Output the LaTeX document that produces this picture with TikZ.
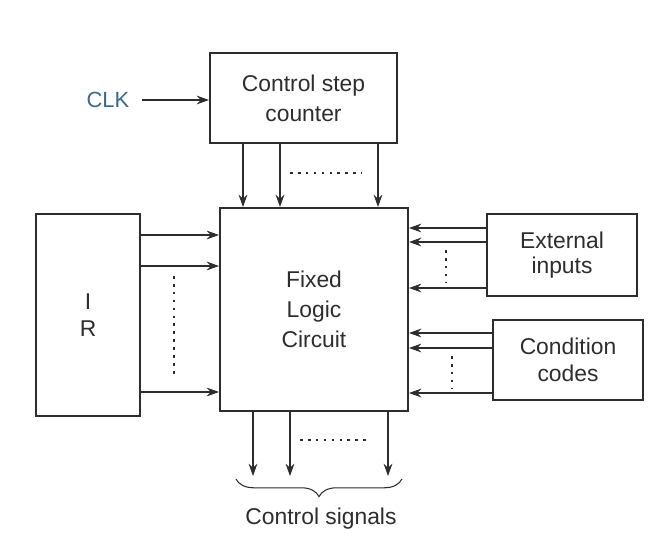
\documentclass[tikz,border=0pt]{standalone}
\usepackage{xcolor}
\usepackage{fontspec}
\setmainfont{Liberation Sans}
\usepackage{tikz}
\usetikzlibrary{arrows.meta, positioning, calc, decorations.pathreplacing}

\definecolor{inkgray}{RGB}{45,45,45}
\definecolor{clkblue}{RGB}{55,105,150}

\begin{document}
\begin{tikzpicture}[
    x=0.02cm, y=-0.02cm,
    blockbox/.style={draw=inkgray, line width=1.2pt, text=inkgray, align=center, inner sep=0pt, font=\fontsize{13}{16}\selectfont},
    sig/.style={draw=inkgray, line width=0.6pt, -{Stealth[length=7pt, width=5pt]}},
    dots/.style={draw=inkgray, line width=0.7pt, dash pattern=on 1.5pt off 3pt},
]
    \useasboundingbox (0,0) rectangle (663,536);

    \node[blockbox, minimum width=3.74cm, minimum height=1.8cm] (csc) at (303.5,98) {Control step\\[1pt] counter};
    \node[blockbox, minimum width=3.76cm, minimum height=4.06cm] (flc) at (314,309.5) {Fixed\\[1pt] Logic\\[1pt] Circuit};
    \node[blockbox, minimum width=2.08cm, minimum height=4.04cm] (ir) at (88,315) {I\\[-1pt] R};
    \node[blockbox, minimum width=3.0cm, minimum height=1.64cm] (ext) at (562,255) {External\\[-2pt] inputs};
    \node[blockbox, minimum width=3.0cm, minimum height=1.6cm] (cond) at (568,360) {Condition\\[-1pt] codes};

    \node[text=clkblue, font=\fontsize{12.5}{14}\selectfont] (clk) at (108,100) {CLK};
    \draw[sig] (clk.east) ++(6,0) -- (csc.west |- clk.east);

    % counter to logic
    \foreach \xx in {243,280,378}
        \draw[sig] (csc.south -| \xx,0) -- (flc.north -| \xx,0);
    \draw[dots] (290,173) -- (362,173);

    % IR to logic
    \foreach \yy in {235,266,392}
        \draw[sig] (ir.east |- 0,\yy) -- (flc.west |- 0,\yy);
    \draw[dots] (174,276) -- (174,376);

    % inputs and codes to logic
    \foreach \yy in {228,242,288}
        \draw[sig] (ext.west |- 0,\yy) -- (flc.east |- 0,\yy);
    \draw[dots] (446,250) -- (446,282);
    \foreach \yy in {333,348,393}
        \draw[sig] (cond.west |- 0,\yy) -- (flc.east |- 0,\yy);
    \draw[dots] (452,356) -- (452,388);

    % control signals
    \foreach \xx in {253,290,388}
        \draw[sig] (flc.south -| \xx,0) -- (\xx,476);
    \draw[dots] (300,440) -- (370,440);

    \coordinate (bl) at (236,479);
    \coordinate (br) at (402,479);
    \draw[inkgray, line width=0.6pt, decorate, decoration={brace, amplitude=10pt}] (br) -- (bl);
    \node[text=inkgray, font=\fontsize{13}{15}\selectfont] (cs) at (321,519) {Control signals};
\end{tikzpicture}
\end{document}
